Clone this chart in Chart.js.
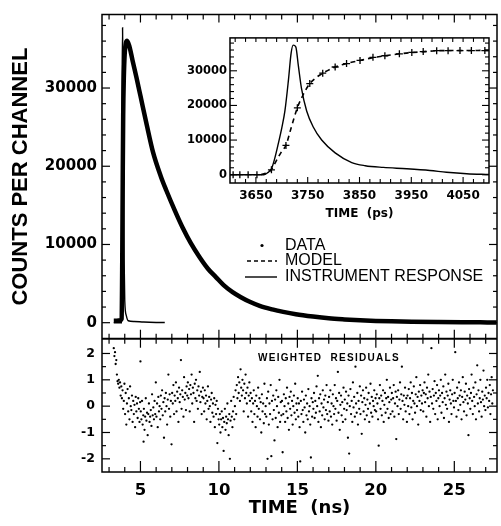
<!DOCTYPE html>
<html>
<head>
<meta charset="utf-8">
<script src="https://cdn.jsdelivr.net/npm/chart.js@4.4.0/dist/chart.umd.min.js"></script>
<style>
  html, body { margin: 0; padding: 0; background: #fff; }
  #wrap { position: relative; width: 501px; height: 526px; overflow: hidden; }
  #main { position: absolute; left: 0; top: 0; }
  #inset { position: absolute; left: 180px; top: 28px; }
</style>
</head>
<body>
<div id="wrap">
  <canvas id="main" width="501" height="526"></canvas>
  <canvas id="inset" width="315" height="196"></canvas>
</div>
<script>
// fluorescence decay, main panel (time in ns)
const decayTime = [3.3, 3.5, 3.7, 3.8, 3.84, 3.87, 3.9, 3.94, 4.0, 4.08, 4.15, 4.3, 4.5, 4.75, 5.0, 5.4, 5.8, 6.3, 6.65, 7.2, 7.7, 8.2, 8.76, 9.3, 9.82, 10.3, 10.87, 11.4, 11.93, 12.6, 13.4, 14.1, 14.9, 16, 17, 18, 19, 20, 21, 22.3, 24, 25.5, 27.1, 27.7];
const decayCounts = [250, 250, 300, 500, 8000, 18000, 26500, 31200, 34500, 35800, 36050, 35300, 33500, 31300, 29000, 25300, 21800, 18700, 16900, 14300, 12100, 10200, 8400, 6900, 5800, 4800, 3900, 3250, 2700, 2150, 1700, 1380, 1080, 780, 560, 420, 310, 230, 170, 120, 80, 55, 40, 35];

// instrument response, main panel
const irfTime = [3.3, 3.78, 3.8, 3.83, 3.86, 3.89, 3.92, 3.96, 4.0, 4.1, 4.22, 4.6, 5.2, 6.0, 6.55];
const irfCounts = [0, 0, 8000, 30000, 37700, 30000, 18000, 8000, 2800, 900, 250, 150, 80, 30, 20];

// weighted residuals [time ns, residual]
const residuals = [
  [3.3,2.2],[3.34,1.9],[3.38,2.05],[3.42,1.6],[3.46,1.75],[3.5,1.2],[3.54,0.95],[3.58,0.85],[3.62,1.0],[3.66,0.7],[3.7,0.9],[3.74,0.4],[3.78,0.75],[3.82,0.3],[3.86,0.6],[3.9,-0.1],[3.94,0.2],[3.98,0.85],
  [4.02,-0.3],[4.06,0.5],[4.1,-0.7],[4.14,0.1],[4.18,0.65],[4.22,-0.2],[4.26,0.3],[4.3,-0.5],[4.34,0.75],[4.38,0.0],[4.42,-0.15],[4.46,0.4],[4.5,-0.6],[4.54,0.2],[4.58,-0.3],[4.62,0.05],[4.66,-0.8],[4.7,0.35],[4.74,-0.2],[4.78,0.1],[4.82,-0.45],[4.86,0.3],[4.9,-0.1],[4.94,-0.6],[4.98,0.15],[5.0,1.7],
  [5.02,-0.2],[5.06,-0.5],[5.1,0.2],[5.14,-0.7],[5.18,-0.35],[5.2,-1.35],[5.22,-0.1],[5.26,-0.9],[5.3,-0.4],[5.34,0.3],[5.38,-0.55],[5.42,-0.25],[5.46,-1.1],[5.5,-0.3],[5.54,0.1],[5.58,-0.6],[5.62,-0.4],[5.66,-0.15],[5.7,-0.75],[5.74,0.45],[5.78,-0.35],[5.82,-0.05],[5.86,-0.5],[5.9,0.2],[5.94,-0.3],[5.98,0.9],
  [6.02,-0.4],[6.06,0.1],[6.1,-0.8],[6.14,0.35],[6.18,-0.2],[6.22,0.0],[6.26,-0.5],[6.3,0.4],[6.34,-0.1],[6.38,0.6],[6.42,-0.35],[6.46,0.15],[6.5,-1.2],[6.54,0.3],[6.58,-0.2],[6.62,0.5],[6.66,0.0],[6.7,-0.7],[6.74,0.25],[6.78,1.2],[6.82,-0.1],[6.86,0.45],[6.9,-0.4],[6.94,0.2],[6.98,-1.45],
  [7.02,0.5],[7.06,0.1],[7.1,0.8],[7.14,-0.3],[7.18,0.4],[7.22,0.2],[7.26,0.9],[7.3,-0.2],[7.34,0.55],[7.38,0.3],[7.42,-0.6],[7.46,0.7],[7.5,0.15],[7.54,0.45],[7.58,1.75],[7.62,-0.1],[7.66,0.6],[7.7,0.35],[7.74,-0.4],[7.78,1.1],[7.82,0.25],[7.86,0.5],[7.9,-0.15],[7.94,0.75],[7.98,0.4],
  [8.02,0.9],[8.06,0.3],[8.1,0.65],[8.14,-0.2],[8.18,0.8],[8.22,0.45],[8.26,1.2],[8.3,0.1],[8.34,0.7],[8.38,0.5],[8.42,-0.6],[8.46,0.85],[8.5,0.3],[8.54,1.0],[8.58,0.2],[8.62,0.6],[8.66,-0.1],[8.7,0.75],[8.74,0.4],[8.78,1.3],[8.82,0.15],[8.86,0.55],[8.9,-0.3],[8.94,0.35],[8.98,0.7],
  [9.02,0.3],[9.06,-0.2],[9.1,0.6],[9.14,0.1],[9.18,0.4],[9.22,-0.5],[9.26,0.2],[9.3,0.75],[9.34,-0.1],[9.38,0.35],[9.42,0.0],[9.46,-0.6],[9.5,0.25],[9.54,0.5],[9.58,-0.25],[9.62,0.1],[9.66,-0.4],[9.7,0.3],[9.74,-0.8],[9.78,0.05],[9.82,-0.3],[9.86,0.2],[9.9,-1.4],[9.94,-0.1],[9.98,-0.5],
  [10.02,-0.7],[10.06,-0.3],[10.1,-1.0],[10.14,-0.5],[10.18,-0.2],[10.22,-0.8],[10.26,-0.45],[10.3,-1.7],[10.34,-0.6],[10.38,-0.1],[10.42,-0.9],[10.46,-0.4],[10.5,-0.65],[10.54,0.1],[10.58,-0.5],[10.62,-1.1],[10.66,-0.3],[10.7,-2.0],[10.74,-0.55],[10.78,0.2],[10.82,-0.4],[10.86,-0.8],[10.9,-0.2],[10.94,0.35],[10.98,-0.5],
  [11.02,0.0],[11.06,0.6],[11.1,-0.3],[11.14,0.8],[11.18,0.3],[11.22,1.1],[11.26,0.5],[11.3,0.9],[11.34,0.2],[11.38,1.4],[11.42,0.7],[11.46,0.4],[11.5,1.0],[11.54,0.6],[11.58,-0.2],[11.62,0.85],[11.66,0.3],[11.7,1.2],[11.74,0.5],[11.78,0.1],[11.82,0.7],[11.86,-0.4],[11.9,0.4],[11.94,0.9],[11.98,0.2],
  [12.02,0.5],[12.06,-0.2],[12.1,0.3],[12.14,-0.6],[12.18,0.1],[12.22,0.6],[12.26,-0.3],[12.3,0.2],[12.34,-0.8],[12.38,0.4],[12.42,0.0],[12.46,-0.4],[12.5,0.7],[12.54,-0.1],[12.58,0.3],[12.62,-0.5],[12.66,0.15],[12.7,-1.0],[12.74,0.45],[12.78,-0.2],[12.82,0.1],[12.86,-0.65],[12.9,0.85],[12.94,-0.3],[12.98,0.0],
  [13.02,-0.4],[13.06,0.3],[13.1,-2.0],[13.14,0.55],[13.18,-0.7],[13.22,0.1],[13.26,-0.3],[13.3,0.8],[13.34,-1.9],[13.38,0.2],[13.42,-0.5],[13.46,0.4],[13.5,-0.15],[13.54,-1.3],[13.58,0.25],[13.62,-0.45],[13.66,0.6],[13.7,0.0],[13.74,-0.8],[13.78,0.35],[13.82,-0.25],[13.86,1.0],[13.9,-0.6],[13.94,0.15],[13.98,-0.35],
  [14.02,0.2],[14.06,-1.75],[14.1,-0.3],[14.14,0.45],[14.18,0.0],[14.22,-0.6],[14.26,0.3],[14.3,-0.2],[14.34,0.7],[14.38,-0.45],[14.42,0.1],[14.46,-0.9],[14.5,0.35],[14.54,-0.1],[14.58,0.55],[14.62,-0.35],[14.66,0.2],[14.7,-0.7],[14.74,0.0],[14.78,0.4],[14.82,-0.25],[14.86,0.85],[14.9,-0.5],[14.94,0.1],[14.98,-0.15],
  [15.02,0.3],[15.06,-0.4],[15.1,0.1],[15.14,-0.8],[15.18,-2.1],[15.22,0.2],[15.26,-0.3],[15.3,0.55],[15.34,-0.15],[15.38,-0.6],[15.42,0.25],[15.46,-0.05],[15.5,-1.0],[15.54,0.4],[15.58,-0.35],[15.62,0.1],[15.66,-0.5],[15.7,0.65],[15.74,-0.2],[15.78,0.0],[15.82,-0.7],[15.86,-1.95],[15.9,0.3],[15.94,-0.4],[15.98,0.15],
  [16.02,-0.1],[16.06,0.5],[16.1,-0.45],[16.14,0.2],[16.18,-0.25],[16.22,0.75],[16.26,0.0],[16.3,1.15],[16.34,-0.6],[16.38,0.3],[16.42,-0.2],[16.46,0.45],[16.5,-0.8],[16.54,0.1],[16.58,-0.35],[16.62,0.6],[16.66,-0.05],[16.7,0.25],[16.74,-0.5],[16.78,0.4],[16.82,-0.15],[16.86,0.8],[16.9,-0.3],[16.94,0.15],[16.98,-0.55],
  [17.02,0.35],[17.06,-0.2],[17.1,0.6],[17.14,-0.4],[17.18,0.1],[17.22,-0.7],[17.26,0.45],[17.3,0.0],[17.34,-0.3],[17.38,0.8],[17.42,-0.1],[17.46,0.3],[17.5,-0.55],[17.54,0.2],[17.58,1.3],[17.62,-0.25],[17.66,0.5],[17.7,-0.9],[17.74,0.05],[17.78,0.4],[17.82,-0.35],[17.86,0.15],[17.9,-0.6],[17.94,0.7],[17.98,-0.1],
  [18.02,0.25],[18.06,-0.5],[18.1,0.55],[18.14,-0.15],[18.18,0.1],[18.22,-1.2],[18.26,0.4],[18.3,-1.8],[18.34,0.0],[18.38,0.65],[18.42,-0.3],[18.46,0.2],[18.5,-0.6],[18.54,0.9],[18.58,-0.05],[18.62,0.35],[18.66,-0.4],[18.7,1.5],[18.74,0.1],[18.78,-0.25],[18.82,0.5],[18.86,-0.7],[18.9,0.2],[18.94,-0.1],[18.98,0.75],
  [19.02,-0.3],[19.06,0.4],[19.1,-1.05],[19.14,0.15],[19.18,0.6],[19.22,-0.2],[19.26,0.3],[19.3,-0.5],[19.34,0.05],[19.38,0.7],[19.42,-0.35],[19.46,0.25],[19.5,-0.1],[19.54,0.5],[19.58,-0.6],[19.62,0.1],[19.66,0.85],[19.7,-0.25],[19.74,0.35],[19.78,-0.4],[19.82,0.2],[19.86,0.0],[19.9,0.6],[19.94,-0.15],[19.98,0.3],
  [20.02,-0.2],[20.06,0.45],[20.1,0.1],[20.14,-0.5],[20.18,-1.5],[20.22,0.3],[20.26,0.8],[20.3,-0.1],[20.34,0.4],[20.38,-0.35],[20.42,0.2],[20.46,0.6],[20.5,-0.6],[20.54,0.05],[20.58,0.5],[20.62,-0.25],[20.66,0.3],[20.7,1.0],[20.74,-0.1],[20.78,0.35],[20.82,-0.45],[20.86,0.15],[20.9,0.7],[20.94,-0.3],[20.98,0.25],
  [21.02,0.5],[21.06,-0.2],[21.1,0.3],[21.14,0.8],[21.18,-0.4],[21.22,0.1],[21.26,0.55],[21.3,-1.25],[21.34,0.35],[21.38,0.0],[21.42,0.6],[21.46,-0.3],[21.5,0.25],[21.54,0.9],[21.58,-0.1],[21.62,0.45],[21.66,1.5],[21.7,0.2],[21.74,-0.5],[21.78,0.4],[21.82,0.05],[21.86,0.7],[21.9,-0.2],[21.94,0.3],[21.98,-0.6],
  [22.02,0.4],[22.06,0.0],[22.1,0.65],[22.14,-0.3],[22.18,0.3],[22.22,0.9],[22.26,-0.05],[22.3,0.5],[22.34,-0.5],[22.38,0.2],[22.42,0.75],[22.46,0.1],[22.5,-0.25],[22.54,0.45],[22.58,1.1],[22.62,0.0],[22.66,0.35],[22.7,-0.7],[22.74,0.55],[22.78,0.2],[22.82,0.8],[22.86,-0.15],[22.9,0.4],[22.94,0.1],[22.98,0.6],
  [23.02,-0.2],[23.06,0.5],[23.1,0.9],[23.14,0.15],[23.18,0.45],[23.22,-0.4],[23.26,0.7],[23.3,0.3],[23.34,1.2],[23.38,0.0],[23.42,0.55],[23.46,-0.6],[23.5,0.35],[23.54,2.2],[23.58,0.1],[23.62,0.65],[23.66,-0.1],[23.7,0.4],[23.74,0.95],[23.78,-0.3],[23.82,0.5],[23.86,0.2],[23.9,0.8],[23.94,-0.5],[23.98,0.3],
  [24.02,0.6],[24.06,0.0],[24.1,0.4],[24.14,1.0],[24.18,-0.25],[24.22,0.5],[24.26,0.15],[24.3,0.75],[24.34,-0.45],[24.38,0.3],[24.42,1.2],[24.46,0.05],[24.5,0.55],[24.54,-0.1],[24.58,0.4],[24.62,0.85],[24.66,-0.6],[24.7,0.25],[24.74,0.6],[24.78,0.1],[24.82,-0.3],[24.86,0.45],[24.9,1.0],[24.94,0.2],[24.98,-0.05],
  [25.02,0.5],[25.06,2.05],[25.1,0.2],[25.14,-0.4],[25.18,0.7],[25.22,0.3],[25.26,-0.15],[25.3,0.9],[25.34,0.4],[25.38,0.05],[25.42,0.6],[25.46,-0.5],[25.5,0.35],[25.54,1.1],[25.58,0.15],[25.62,-0.2],[25.66,0.55],[25.7,0.25],[25.74,0.85],[25.78,-0.35],[25.82,0.4],[25.86,0.1],[25.9,-1.1],[25.94,0.65],[25.98,0.3],
  [26.02,-0.1],[26.06,0.5],[26.1,1.2],[26.14,0.2],[26.18,-0.3],[26.22,0.7],[26.26,0.35],[26.3,0.0],[26.34,0.9],[26.38,-0.5],[26.42,0.45],[26.46,1.55],[26.5,0.1],[26.54,0.6],[26.58,-0.2],[26.62,0.3],[26.66,1.0],[26.7,0.15],[26.74,-0.4],[26.78,0.55],[26.82,0.25],[26.86,1.35],[26.9,0.0],[26.94,0.4],[26.98,-0.15],
  [27.02,0.7],[27.06,0.3],[27.1,1.0],[27.14,-0.05],[27.18,0.5],[27.22,0.2],[27.26,0.8],[27.3,-0.3],[27.34,0.45],[27.38,1.1],[27.42,0.1],[27.46,0.6]
];

// inset, time in ps
const insetDataPs = [3606, 3619, 3635, 3652, 3680, 3708, 3730, 3754, 3779, 3803, 3825, 3851, 3876, 3899, 3927, 3951, 3973, 3999, 4021, 4044, 4066, 4092];
const insetDataCounts = [0, 0, 0, 0, 1400, 8440, 19300, 26300, 29300, 31100, 32100, 33000, 33900, 34350, 34900, 35300, 35550, 35800, 35800, 35850, 35850, 35850];
const insetModelPs = [3660, 3672, 3680, 3690, 3700, 3708, 3718, 3730, 3742, 3754, 3766, 3779, 3803, 3825, 3851, 3876, 3900, 3927, 3951, 3975, 4000, 4040, 4100];
const insetModelCounts = [0, 600, 1500, 4200, 6800, 8500, 13500, 19300, 23300, 26300, 28000, 29300, 31100, 32100, 33000, 33800, 34350, 34900, 35250, 35550, 35800, 35850, 35900];
const insetIrfPs = [3600, 3665, 3672, 3680, 3686, 3693, 3700, 3706, 3713, 3718, 3722, 3727, 3732, 3738, 3748, 3761, 3777, 3803, 3835, 3861, 3896, 3941, 3986, 4018, 4057, 4100];
const insetIrfCounts = [0, 0, 500, 1700, 4500, 8800, 13500, 18400, 27600, 35100, 37400, 36900, 31400, 24900, 18400, 13700, 10000, 6300, 3500, 2600, 2100, 1700, 1200, 700, 280, 50];

const countTicks = [0, 10000, 20000, 30000];
const residualTicks = [-2, -1, 0, 1, 2];
const timeTicks = [5, 10, 15, 20, 25];
const insetTimeTicks = [3650, 3750, 3850, 3950, 4050];

const pts = (xs, ys) => xs.map((x, i) => ({ x, y: ys[i] }));
const boldFont = (size, family) => ({ family: family || 'DejaVu Sans', size, weight: 'bold' });

function seg(ctx, x1, y1, x2, y2) {
  ctx.beginPath();
  ctx.moveTo(x1, y1);
  ctx.lineTo(x2, y2);
  ctx.stroke();
}

// frame, inward ticks, legend and residual caption for the main figure
const mainFrame = {
  id: 'mainFrame',
  afterDraw(chart) {
    const { ctx, chartArea: a } = chart;
    const { x, y, yRes } = chart.scales;
    const split = y.bottom;
    ctx.save();
    ctx.strokeStyle = '#000';
    ctx.fillStyle = '#000';
    ctx.lineWidth = 1.5;
    ctx.strokeRect(a.left, a.top, a.right - a.left, a.bottom - a.top);
    ctx.lineWidth = 2;
    seg(ctx, a.left, split, a.right, split);

    ctx.lineWidth = 1.2;
    for (let t = 3; t <= 27; t++) {
      const px = x.getPixelForValue(t);
      const major = t % 5 === 0;
      seg(ctx, px, a.top, px, a.top + (major ? 8 : 5));
      seg(ctx, px, split - (major ? 9 : 5), px, split + (major ? 9 : 5));
      seg(ctx, px, a.bottom, px, a.bottom - (major ? 11 : 5));
    }
    for (let v = 0; v <= 38000; v += 2000) {
      const py = y.getPixelForValue(v);
      const len = v % 10000 === 0 ? 8 : 4;
      seg(ctx, a.left, py, a.left + len, py);
      seg(ctx, a.right, py, a.right - len, py);
    }
    for (let v = -2; v <= 2; v += 0.5) {
      const py = yRes.getPixelForValue(v);
      const len = Number.isInteger(v) ? 8 : 4;
      seg(ctx, a.left, py, a.left + len, py);
      seg(ctx, a.right, py, a.right - len, py);
    }

    // legend
    ctx.lineWidth = 1.4;
    ctx.beginPath();
    ctx.arc(262, 245.5, 1.6, 0, Math.PI * 2);
    ctx.fill();
    ctx.setLineDash([4, 3]);
    seg(ctx, 247, 261, 277, 261);
    ctx.setLineDash([]);
    seg(ctx, 245, 277, 277, 277);
    ctx.font = '16px "Liberation Sans"';
    ctx.textBaseline = 'middle';
    ctx.textAlign = 'left';
    ctx.fillText('DATA', 285, 245.5);
    ctx.fillText('MODEL', 285, 261);
    ctx.fillText('INSTRUMENT RESPONSE', 285, 277);

    ctx.font = 'bold 10px "Liberation Sans"';
    ctx.letterSpacing = '1.3px';
    ctx.fillText('WEIGHTED  RESIDUALS', 258, 358.5);
    ctx.restore();
  }
};

const insetFrame = {
  id: 'insetFrame',
  afterDraw(chart) {
    const { ctx, chartArea: a } = chart;
    const { x, y } = chart.scales;
    ctx.save();
    ctx.strokeStyle = '#000';
    ctx.lineWidth = 1.5;
    ctx.strokeRect(a.left, a.top, a.right - a.left, a.bottom - a.top);
    ctx.lineWidth = 1.1;
    for (let t = 3610; t <= 4090; t += 20) {
      const px = x.getPixelForValue(t);
      const len = (t - 3650) % 100 === 0 ? 6 : 4;
      seg(ctx, px, a.top, px, a.top + 4);
      seg(ctx, px, a.bottom, px, a.bottom - len);
    }
    for (let v = 0; v <= 38000; v += 2000) {
      const py = y.getPixelForValue(v);
      const len = v % 10000 === 0 ? 7 : 4;
      seg(ctx, a.left, py, a.left + len, py);
      seg(ctx, a.right, py, a.right - len, py);
    }
    ctx.restore();
  }
};

Chart.defaults.color = '#000';

new Chart(document.getElementById('main'), {
  type: 'scatter',
  data: {
    datasets: [
      {
        label: 'DATA',
        data: pts(decayTime, decayCounts),
        yAxisID: 'y',
        showLine: true,
        borderColor: '#000',
        borderWidth: 4.5,
        pointRadius: 0,
        cubicInterpolationMode: 'monotone'
      },
      {
        label: 'INSTRUMENT RESPONSE',
        data: pts(irfTime, irfCounts),
        yAxisID: 'y',
        showLine: true,
        borderColor: '#000',
        borderWidth: 1.4,
        pointRadius: 0,
        cubicInterpolationMode: 'monotone'
      },
      {
        label: 'WEIGHTED RESIDUALS',
        data: residuals.map(([t, r]) => ({ x: t, y: r })),
        yAxisID: 'yRes',
        backgroundColor: '#000',
        borderWidth: 0,
        pointRadius: 1.15
      }
    ]
  },
  options: {
    responsive: false,
    animation: false,
    devicePixelRatio: 1,
    layout: { padding: { top: 12, right: 2, left: 0, bottom: 0 } },
    plugins: { legend: { display: false }, tooltip: { enabled: false } },
    scales: {
      x: {
        type: 'linear',
        position: 'bottom',
        min: 2.55,
        max: 27.72,
        grid: { display: false, drawTicks: false },
        border: { display: false },
        afterBuildTicks: s => { s.ticks = timeTicks.map(v => ({ value: v })); },
        afterFit: s => { s.height = 54; },
        ticks: { autoSkip: false, maxRotation: 0, padding: 9, font: boldFont(16.5), callback: v => String(v) },
        title: { display: true, text: 'TIME  (ns)', font: boldFont(18), padding: { top: 0, bottom: 7 } }
      },
      yRes: {
        type: 'linear',
        position: 'left',
        stack: 'panels',
        stackWeight: 134,
        min: -2.5,
        max: 2.56,
        grid: { display: false, drawTicks: false },
        border: { display: false },
        afterBuildTicks: s => { s.ticks = residualTicks.map(v => ({ value: v })); },
        afterFit: s => { s.width = 102; },
        ticks: { padding: 7, font: boldFont(12.5), callback: v => String(v) }
      },
      y: {
        type: 'linear',
        position: 'left',
        stack: 'panels',
        stackWeight: 326,
        min: -2050,
        max: 39400,
        grid: { display: false, drawTicks: false },
        border: { display: false },
        afterBuildTicks: s => { s.ticks = countTicks.map(v => ({ value: v })); },
        afterFit: s => { s.width = 102; },
        ticks: { padding: 5, font: boldFont(15), callback: v => String(v) },
        title: { display: true, text: 'COUNTS PER CHANNEL', font: boldFont(22, 'Liberation Sans'), padding: { top: 8, bottom: 0 } }
      }
    }
  },
  plugins: [mainFrame]
});

new Chart(document.getElementById('inset'), {
  type: 'scatter',
  data: {
    datasets: [
      {
        label: 'INSTRUMENT RESPONSE',
        data: pts(insetIrfPs, insetIrfCounts),
        showLine: true,
        borderColor: '#000',
        borderWidth: 1.4,
        pointRadius: 0,
        cubicInterpolationMode: 'monotone'
      },
      {
        label: 'MODEL',
        data: pts(insetModelPs, insetModelCounts),
        showLine: true,
        borderColor: '#000',
        borderWidth: 1.6,
        borderDash: [5, 4],
        pointRadius: 0,
        cubicInterpolationMode: 'monotone'
      },
      {
        label: 'DATA',
        data: pts(insetDataPs, insetDataCounts),
        pointStyle: 'cross',
        pointRadius: 3.5,
        borderColor: '#000',
        borderWidth: 1.3
      }
    ]
  },
  options: {
    responsive: false,
    animation: false,
    devicePixelRatio: 1,
    layout: { padding: { top: 4, right: 6, left: 0, bottom: 0 } },
    plugins: { legend: { display: false }, tooltip: { enabled: false } },
    scales: {
      x: {
        type: 'linear',
        min: 3600,
        max: 4100,
        grid: { display: false, drawTicks: false },
        border: { display: false },
        afterBuildTicks: s => { s.ticks = insetTimeTicks.map(v => ({ value: v })); },
        afterFit: s => { s.height = 41; },
        ticks: { autoSkip: false, maxRotation: 0, padding: 6, font: boldFont(12), callback: v => String(v) },
        title: { display: true, text: 'TIME  (ps)', font: boldFont(12), padding: { top: 0, bottom: 3 } }
      },
      y: {
        type: 'linear',
        min: -2400,
        max: 39500,
        grid: { display: false, drawTicks: false },
        border: { display: false },
        afterBuildTicks: s => { s.ticks = countTicks.map(v => ({ value: v })); },
        afterFit: s => { s.width = 50; },
        ticks: { padding: 3, font: boldFont(11.5), callback: v => String(v) }
      }
    }
  },
  plugins: [insetFrame]
});
</script>
</body>
</html>
